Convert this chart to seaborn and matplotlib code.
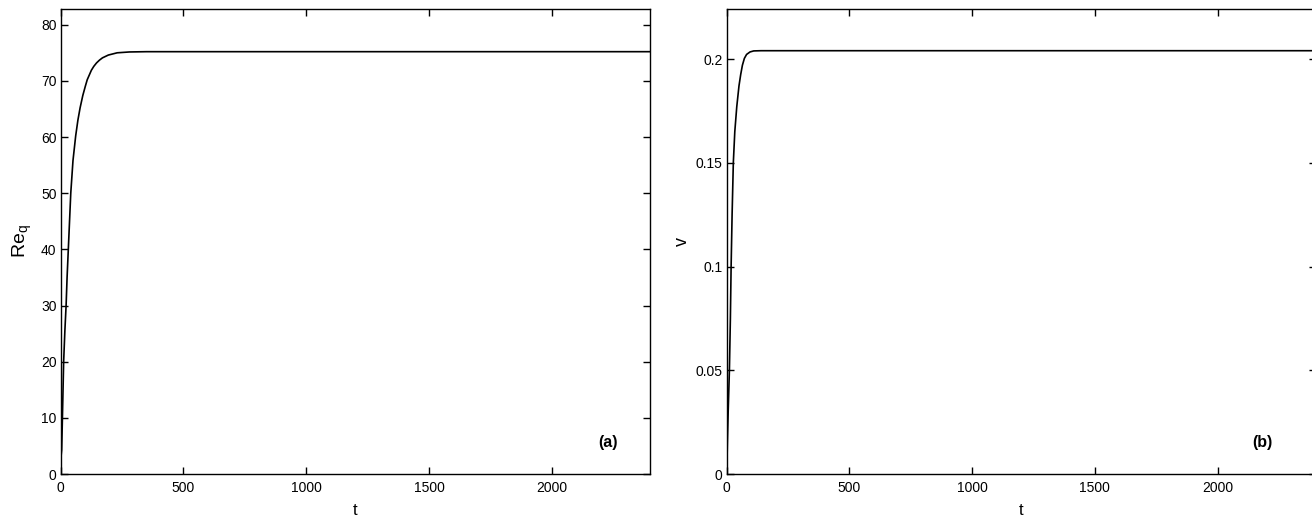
import matplotlib
matplotlib.use("Agg")
import matplotlib.pyplot as plt
import seaborn as sns
import pandas as pd

# Panel (a): Re_q versus t
t_a = [0, 4, 7, 12, 17, 22, 26, 31, 36, 41, 50, 61, 70, 79, 90, 100, 108, 117, 125, 135, 146, 158, 170, 194, 230, 280, 350, 500, 1000, 1500, 2000, 2400]
re_q = [2.5, 4.3, 10, 20, 25.5, 30, 35, 40, 45, 50, 55.8, 60.2, 63.0, 65.2, 67.4, 69.0, 70.2, 71.1, 71.9, 72.6, 73.2, 73.7, 74.1, 74.6, 75.0, 75.15, 75.2, 75.2, 75.2, 75.2, 75.2, 75.2]

# Panel (b): v versus t
t_b = [0, 3, 6, 11, 15, 18, 22, 27, 33, 41, 50, 57, 64, 72, 81, 95, 110, 140, 200, 500, 1000, 1500, 2000, 2400]
v = [0, 0.016, 0.03, 0.05, 0.075, 0.1, 0.125, 0.15, 0.165, 0.177, 0.187, 0.1925, 0.197, 0.2003, 0.2022, 0.2034, 0.2039, 0.204, 0.204, 0.204, 0.204, 0.204, 0.204, 0.204]

xticks = [0, 500, 1000, 1500, 2000]
yticks_a = [0, 10, 20, 30, 40, 50, 60, 70, 80]
yticks_b = [0, 0.05, 0.1, 0.15, 0.2]
ytick_labels_b = ["0", "0.05", "0.1", "0.15", "0.2"]

sns.set_style("ticks")
plt.rcParams["font.family"] = ["Liberation Sans", "DejaVu Sans"]
plt.rcParams["mathtext.fontset"] = "custom"
plt.rcParams["mathtext.rm"] = "Liberation Sans"
plt.rcParams["mathtext.it"] = "Liberation Sans:italic"
plt.rcParams["mathtext.bf"] = "Liberation Sans:bold"
plt.rcParams["text.color"] = "black"
plt.rcParams["axes.labelcolor"] = "black"

fig = plt.figure(figsize=(13.12, 5.19), dpi=100)
W, H = 1312, 519
ax1 = fig.add_axes([60.7 / W, (519 - 474) / H, 589.3 / W, 465 / H])
ax2 = fig.add_axes([726.7 / W, (519 - 474) / H, 589.0 / W, 465 / H])

df_a = pd.DataFrame({"t": t_a, "Re": re_q})
df_b = pd.DataFrame({"t": t_b, "v": v})
sns.lineplot(data=df_a, x="t", y="Re", ax=ax1, color="black", linewidth=1.2)
sns.lineplot(data=df_b, x="t", y="v", ax=ax2, color="black", linewidth=1.2)

ax1.set_xlim(0, 2400)
ax1.set_ylim(0, 82.8)
ax1.set_xticks(xticks)
ax1.set_xticklabels([str(x) for x in xticks])
ax1.set_yticks(yticks_a)
ax1.set_yticklabels([str(y) for y in yticks_a])
ax1.set_xlabel("t", fontsize=12, labelpad=6)
ax1.set_ylabel(r"$\mathrm{Re}_\mathrm{q}$", fontsize=14, labelpad=5)
ax1.text(0.929, 0.067, "(a)", transform=ax1.transAxes, fontsize=11.5, fontweight="bold",
         ha="center", va="center", color="black")

ax2.set_xlim(0, 2400)
ax2.set_ylim(0, 0.2241)
ax2.set_xticks(xticks)
ax2.set_xticklabels([str(x) for x in xticks])
ax2.set_yticks(yticks_b)
ax2.set_yticklabels(ytick_labels_b)
ax2.set_xlabel("t", fontsize=12, labelpad=6)
ax2.set_ylabel("v", fontsize=13, labelpad=3)
ax2.text(0.909, 0.067, "(b)", transform=ax2.transAxes, fontsize=11.5, fontweight="bold",
         ha="center", va="center", color="black")

for ax in (ax1, ax2):
    ax.tick_params(direction="in", length=5, width=1, top=True, right=True,
                   labelsize=10, colors="black")
    ax.tick_params(axis="x", pad=5)
    ax.tick_params(axis="y", pad=3)
    for s in ax.spines.values():
        s.set_visible(True)
        s.set_color("black")
        s.set_linewidth(1)

fig.savefig("out.png", dpi=100)
